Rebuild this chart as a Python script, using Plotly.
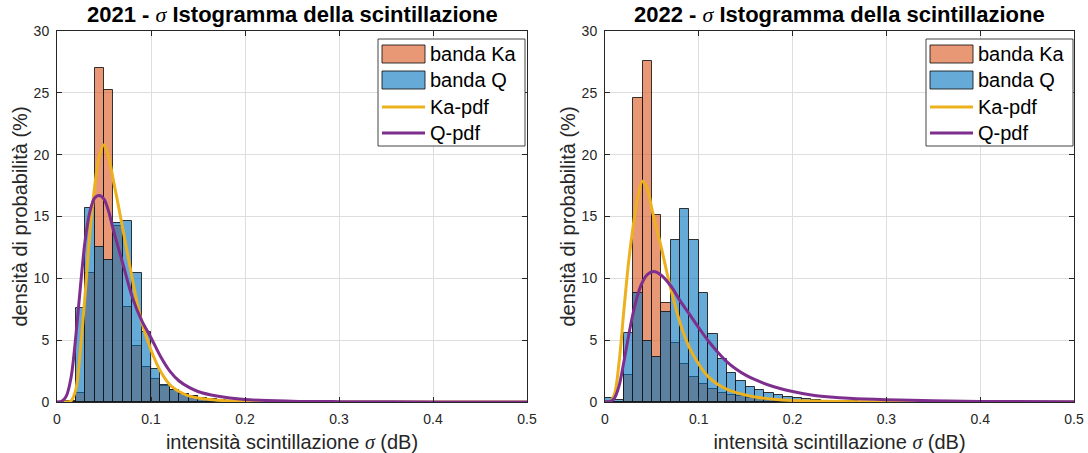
import plotly.graph_objects as go

# ---------------- data ----------------
BIN_LEFT_EDGES = [0.00, 0.01, 0.02, 0.03, 0.04, 0.05, 0.06, 0.07, 0.08, 0.09,
                  0.10, 0.11, 0.12, 0.13, 0.14, 0.15, 0.16, 0.17, 0.18, 0.19,
                  0.20, 0.21, 0.22, 0.23, 0.24, 0.25, 0.26, 0.27, 0.28, 0.29]
BIN_WIDTH = 0.01

KA_2021 = [0, 0, 0.7, 10.4, 27.0, 25.2, 14.2, 7.7, 4.5, 2.8,
           1.9, 1.3, 0.95, 0.65, 0.45, 0.33, 0.24, 0.17, 0.12, 0.08,
           0.06, 0.04, 0.03, 0.02, 0.02, 0.01, 0.01, 0.01, 0, 0]
Q_2021 = [0, 0.05, 7.6, 15.7, 12.5, 11.5, 14.5, 14.6, 10.4, 5.7,
          2.7, 1.4, 1.0, 0.67, 0.5, 0.35, 0.25, 0.18, 0.12, 0.08,
          0.06, 0.04, 0.03, 0.02, 0.01, 0.01, 0, 0, 0, 0]
KA_2022 = [0.1, 0, 2.2, 24.6, 27.6, 15.1, 8.0, 4.8, 3.05, 2.05,
           1.43, 1.07, 0.75, 0.6, 0.48, 0.35, 0.25, 0.2, 0.15, 0.12,
           0.1, 0.08, 0.06, 0.1, 0.05, 0.04, 0.03, 0.02, 0.02, 0.01]
Q_2022 = [0.3, 0.15, 5.6, 8.8, 4.9, 3.65, 7.25, 13.1, 15.6, 13.1,
          8.8, 5.5, 3.5, 2.35, 1.73, 1.24, 0.96, 0.74, 0.55, 0.41,
          0.3, 0.22, 0.16, 0.12, 0.09, 0.07, 0.05, 0.04, 0.03, 0.02]

KA_PDF_2021_X = [0, 0.01, 0.015, 0.02, 0.025, 0.03, 0.035, 0.04, 0.045, 0.05, 0.055, 0.06,
                 0.065, 0.07, 0.075, 0.08, 0.085, 0.09, 0.1, 0.11, 0.12, 0.13, 0.14, 0.16,
                 0.18, 0.2, 0.25, 0.3, 0.5]
KA_PDF_2021_Y = [0, 0, 0.1, 1.0, 4.3, 8.8, 13.7, 17.4, 19.9, 20.8, 19.8, 17.9,
                 16.0, 14.0, 12.0, 10.0, 8.1, 6.5, 4.2, 2.5, 1.4, 0.85, 0.5, 0.22,
                 0.1, 0.04, 0.01, 0, 0]
Q_PDF_2021_X = [0, 0.005, 0.01, 0.015, 0.02, 0.025, 0.03, 0.035, 0.04, 0.045, 0.05, 0.055,
                0.06, 0.07, 0.08, 0.09, 0.1, 0.11, 0.12, 0.13, 0.14, 0.15, 0.17, 0.2,
                0.25, 0.3, 0.4, 0.5]
Q_PDF_2021_Y = [0, 0.05, 0.5, 2.0, 5.3, 9.4, 13.1, 15.4, 16.5, 16.7, 16.4, 15.4,
                13.9, 11.2, 8.5, 6.6, 5.2, 3.7, 2.5, 1.7, 1.2, 0.85, 0.48, 0.2,
                0.07, 0.03, 0.01, 0]

KA_PDF_2022_X = [0, 0.005, 0.01, 0.015, 0.02, 0.025, 0.03, 0.035, 0.04, 0.045, 0.05, 0.055,
                 0.06, 0.065, 0.07, 0.08, 0.09, 0.1, 0.11, 0.12, 0.13, 0.14, 0.15, 0.16,
                 0.18, 0.2, 0.25, 0.3, 0.5]
KA_PDF_2022_Y = [0, 0, 0.6, 3.2, 7.3, 11.2, 14.2, 16.6, 17.85, 17.3, 15.6, 14.0,
                 12.5, 10.8, 9.2, 6.4, 4.4, 3.05, 2.05, 1.43, 1.03, 0.76, 0.56, 0.4,
                 0.22, 0.12, 0.04, 0.01, 0]
Q_PDF_2022_X = [0, 0.005, 0.01, 0.015, 0.02, 0.025, 0.03, 0.035, 0.04, 0.045, 0.052, 0.06,
                0.07, 0.08, 0.09, 0.1, 0.11, 0.12, 0.13, 0.14, 0.15, 0.16, 0.18, 0.2,
                0.22, 0.24, 0.26, 0.3, 0.35, 0.4, 0.5]
Q_PDF_2022_Y = [0, 0.02, 0.3, 1.3, 3.2, 5.3, 7.2, 8.7, 9.7, 10.3, 10.55, 10.25,
                9.4, 8.2, 7.1, 6.0, 4.95, 4.05, 3.25, 2.65, 2.17, 1.8, 1.23, 0.85,
                0.57, 0.41, 0.3, 0.18, 0.1, 0.05, 0.02]

X_TICKS = [0, 0.1, 0.2, 0.3, 0.4, 0.5]
X_TICK_TEXT = ["0", "0.1", "0.2", "0.3", "0.4", "0.5"]
Y_TICKS = [0, 5, 10, 15, 20, 25, 30]
TITLES = ["2021", "2022"]
LEGEND_LABELS = ["banda Ka", "banda Q", "Ka-pdf", "Q-pdf"]

# ---------------- style ----------------
FONT = "Liberation Sans, Arial, Helvetica, sans-serif"
SIGMA = '<span style="font-family:Liberation Serif;font-weight:normal"><i>σ</i></span>'
KA_FILL = "rgba(217,83,25,0.6)"
Q_FILL = "rgba(0,114,189,0.6)"
EDGE = "rgba(20,20,20,0.85)"
KA_LINE = "rgb(237,177,32)"
Q_LINE = "rgb(126,47,142)"
AX = "#262626"
GRID = "#dedede"
W, H = 1088, 453

centers = [e + BIN_WIDTH / 2 for e in BIN_LEFT_EDGES]

fig = go.Figure()

panels = [
    (KA_2021, Q_2021, KA_PDF_2021_X, KA_PDF_2021_Y, Q_PDF_2021_X, Q_PDF_2021_Y),
    (KA_2022, Q_2022, KA_PDF_2022_X, KA_PDF_2022_Y, Q_PDF_2022_X, Q_PDF_2022_Y),
]

for i, (ka, q, kx, ky, qx, qy) in enumerate(panels):
    xa = "x" if i == 0 else "x2"
    ya = "y" if i == 0 else "y2"
    fig.add_trace(go.Bar(x=centers, y=ka, width=[BIN_WIDTH] * len(centers),
                         marker=dict(color=KA_FILL, line=dict(color=EDGE, width=1)),
                         name="banda Ka", showlegend=False, xaxis=xa, yaxis=ya))
    fig.add_trace(go.Bar(x=centers, y=q, width=[BIN_WIDTH] * len(centers),
                         marker=dict(color=Q_FILL, line=dict(color=EDGE, width=1)),
                         name="banda Q", showlegend=False, xaxis=xa, yaxis=ya))
    fig.add_trace(go.Scatter(x=kx, y=ky, mode="lines",
                             line=dict(color=KA_LINE, width=3, shape="spline", smoothing=0.9),
                             name="Ka-pdf", showlegend=False, xaxis=xa, yaxis=ya))
    fig.add_trace(go.Scatter(x=qx, y=qy, mode="lines",
                             line=dict(color=Q_LINE, width=3, shape="spline", smoothing=0.9),
                             name="Q-pdf", showlegend=False, xaxis=xa, yaxis=ya))

# axis pixel geometry
AX_LEFT = [57, 605]
AX_RIGHT = [527, 1074]
AX_TOP, AX_BOTTOM = 31, 402

def px(x):
    return x / W

def py(y):
    return 1 - y / H

common_x = dict(range=[0, 0.5], tickvals=X_TICKS, ticktext=X_TICK_TEXT,
                showline=True, mirror="ticks", linecolor=AX, linewidth=1,
                ticks="inside", ticklen=5, tickcolor=AX, showgrid=True, gridcolor=GRID,
                zeroline=False, tickfont=dict(family=FONT, size=14, color=AX),
                ticklabelstandoff=4, automargin=False,
                title=dict(text=f"intensità scintillazione {SIGMA} (dB)",
                           font=dict(family=FONT, size=20, color=AX), standoff=10))
common_y = dict(range=[0, 30], tickvals=Y_TICKS,
                showline=True, mirror="ticks", linecolor=AX, linewidth=1,
                ticks="inside", ticklen=5, tickcolor=AX, showgrid=True, gridcolor=GRID,
                zeroline=False, tickfont=dict(family=FONT, size=14, color=AX),
                ticklabelstandoff=4, automargin=False,
                title=dict(text="densità di probabilità (%)",
                           font=dict(family=FONT, size=20, color=AX), standoff=0))

fig.update_layout(
    width=W, height=H,
    margin=dict(l=0, r=0, t=0, b=0, autoexpand=False),
    paper_bgcolor="white", plot_bgcolor="white",
    barmode="overlay", bargap=0,
    showlegend=False,
    xaxis=dict(domain=[px(AX_LEFT[0]), px(AX_RIGHT[0])], anchor="y", **common_x),
    yaxis=dict(domain=[py(AX_BOTTOM), py(AX_TOP)], anchor="x", **common_y),
    xaxis2=dict(domain=[px(AX_LEFT[1]), px(AX_RIGHT[1])], anchor="y2", **common_x),
    yaxis2=dict(domain=[py(AX_BOTTOM), py(AX_TOP)], anchor="x2", **common_y),
)

shapes = []
annotations = []
for i in range(2):
    cx = (AX_LEFT[i] + AX_RIGHT[i]) / 2
    annotations.append(dict(
        x=px(cx), y=py(14), xref="paper", yref="paper", showarrow=False,
        xanchor="center", yanchor="middle",
        text=f"<b>{TITLES[i]} - </b>{SIGMA}<b> Istogramma della scintillazione</b>",
        font=dict(family=FONT, size=22, color="black")))
    # manual legend (MATLAB style box)
    off = AX_LEFT[i] - AX_LEFT[0]
    bx0, bx1, by0, by1 = 378 + off, 525 + off, 39, 146
    shapes.append(dict(type="rect", xref="paper", yref="paper",
                       x0=px(bx0), x1=px(bx1), y0=py(by1), y1=py(by0),
                       line=dict(color="#444", width=1), fillcolor="white", layer="above"))
    sx0, sx1 = 382 + off, 425 + off
    rows = [54, 80, 107, 133]
    shapes.append(dict(type="rect", xref="paper", yref="paper",
                       x0=px(sx0), x1=px(sx1), y0=py(rows[0] + 9), y1=py(rows[0] - 9),
                       line=dict(color=EDGE, width=1), fillcolor=KA_FILL, layer="above"))
    shapes.append(dict(type="rect", xref="paper", yref="paper",
                       x0=px(sx0), x1=px(sx1), y0=py(rows[1] + 9), y1=py(rows[1] - 9),
                       line=dict(color=EDGE, width=1), fillcolor=Q_FILL, layer="above"))
    shapes.append(dict(type="line", xref="paper", yref="paper",
                       x0=px(sx0), x1=px(sx1), y0=py(rows[2]), y1=py(rows[2]),
                       line=dict(color=KA_LINE, width=3), layer="above"))
    shapes.append(dict(type="line", xref="paper", yref="paper",
                       x0=px(sx0), x1=px(sx1), y0=py(rows[3]), y1=py(rows[3]),
                       line=dict(color=Q_LINE, width=3), layer="above"))
    for r, lab in zip(rows, LEGEND_LABELS):
        annotations.append(dict(x=px(sx1 + 3), y=py(r), xref="paper", yref="paper",
                                showarrow=False, xanchor="left", yanchor="middle",
                                text=lab, font=dict(family=FONT, size=20, color="black")))

fig.update_layout(shapes=shapes, annotations=annotations)

fig.write_html("out.html")
